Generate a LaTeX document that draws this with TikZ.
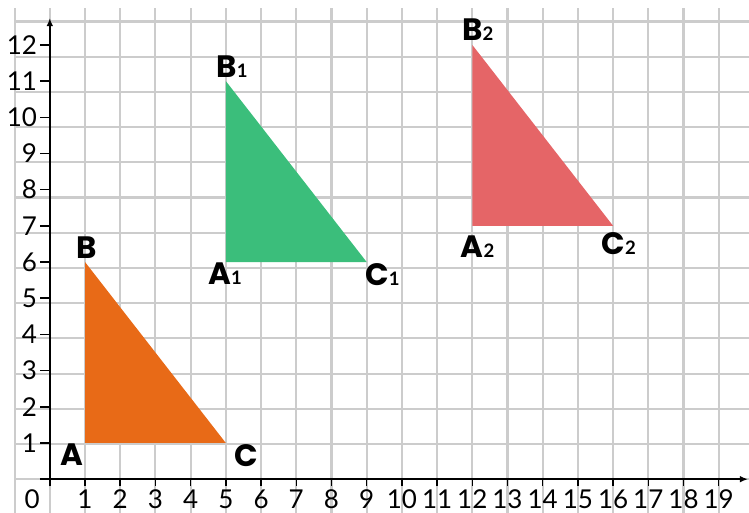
\documentclass[tikz,border=0pt]{standalone}
\usepackage{fontspec}
\setmainfont{Lato}
\newfontfamily\lblfont{Poppins}
\usetikzlibrary{arrows.meta,calc}
\definecolor{gridgray}{HTML}{CCCCCC}
\definecolor{triorange}{HTML}{E86A17}
\definecolor{trigreen}{HTML}{3BBE7B}
\definecolor{trired}{HTML}{E56567}
\newcommand{\vsub}[1]{{\rmfamily\bfseries\fontsize{15}{15}\selectfont #1}}
\tikzset{
  gridline/.style={draw=gridgray,line width=1.7pt,line cap=rect},
  axis/.style={draw=black,line width=1.2pt,-{Latex[length=2.3mm,width=1.9mm]}},
  tickmark/.style={draw=black,line width=1.2pt},
  ticklbl/.style={inner sep=0pt,font=\fontsize{21}{21}\selectfont},
  vlbl/.style={inner sep=0pt,font=\lblfont\fontsize{25}{25}\selectfont\bfseries},
}
\begin{document}
\begin{tikzpicture}[x=1cm,y=1.028cm]
    \useasboundingbox (-1.415,-0.93) rectangle (19.86,13.24);
    \clip (-1.415,-0.93) rectangle (19.86,13.24);
    % grid
    \draw[gridline] (-1,-1) grid (20,13);
    % vertices
    \coordinate (A) at (1,1);
    \coordinate (B) at (1,6);
    \coordinate (C) at (5,1);
    \coordinate (A1) at (5,6);
    \coordinate (B1) at (5,11);
    \coordinate (C1) at (9,6);
    \coordinate (A2) at (12,7);
    \coordinate (B2) at (12,12);
    \coordinate (C2) at (16,7);
    % triangles
    \fill[triorange] (A) -- (B) -- (C) -- cycle;
    \fill[trigreen] (A1) -- (B1) -- (C1) -- cycle;
    \fill[trired] (A2) -- (B2) -- (C2) -- cycle;
    % axes
    \draw[axis] (-0.28,0) -- (19.83,0);
    \draw[axis] (0,-0.2) -- (0,12.74);
    \foreach \i in {1,...,19} {
      \draw[tickmark] (\i,0) -- (\i,-0.2);
      \node[ticklbl] (xl\i) at (\i,-0.55) {\i};
    }
    \foreach \j in {1,...,12} {
      \draw[tickmark] (0,\j) -- (-0.28,\j);
      \node[ticklbl,anchor=east] (yl\j) at (-0.36,\j) {\j};
    }
    \node[ticklbl] (zero) at (-0.5,-0.55) {0};
    % vertex labels
    \node[vlbl] (labA) at ([shift={(-0.38,-0.33)}]A) {A};
    \node[vlbl] (labB) at ([shift={(0.06,0.39)}]B) {B};
    \node[vlbl] (labC) at ([shift={(0.57,-0.35)}]C) {C};
    \node[vlbl] (labA1) at ([shift={(-0.02,-0.33)}]A1) {A\vsub{1}};
    \node[vlbl] (labB1) at ([shift={(0.18,0.40)}]B1) {B\vsub{1}};
    \node[vlbl] (labC1) at ([shift={(0.45,-0.36)}]C1) {C\vsub{1}};
    \node[vlbl] (labA2) at ([shift={(0.15,-0.58)}]A2) {A\vsub{2}};
    \node[vlbl] (labB2) at ([shift={(0.16,0.42)}]B2) {B\vsub{2}};
    \node[vlbl] (labC2) at ([shift={(0.16,-0.50)}]C2) {C\vsub{2}};
\end{tikzpicture}
\end{document}
